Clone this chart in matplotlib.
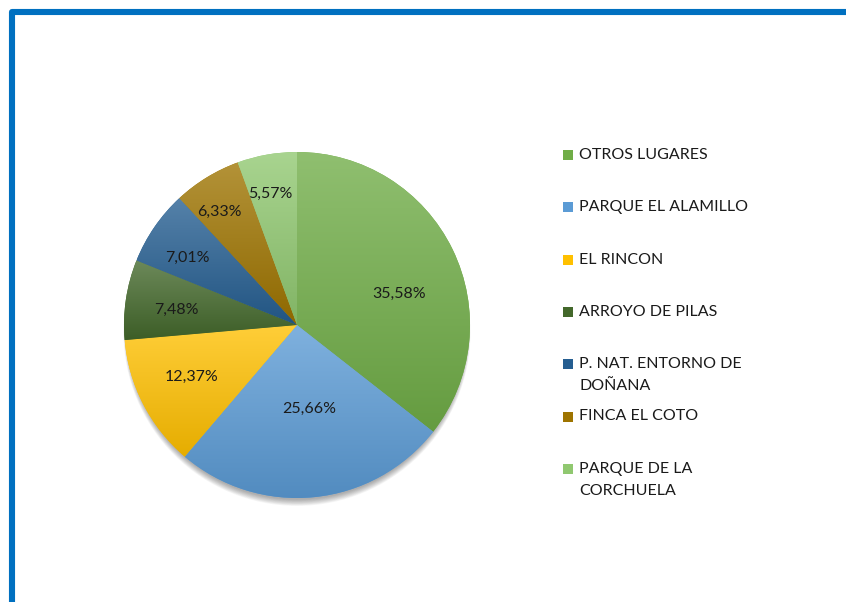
import matplotlib
matplotlib.use('Agg')
import matplotlib.pyplot as plt
import numpy as np
from matplotlib.patches import Rectangle, Circle
from matplotlib.lines import Line2D
from matplotlib.colors import to_rgb

categories = ["OTROS LUGARES", "PARQUE EL ALAMILLO", "EL RINCON", "ARROYO DE PILAS",
              "P. NAT. ENTORNO DE\nDOÑANA", "FINCA EL COTO", "PARQUE DE LA\nCORCHUELA"]
values = [35.58, 25.66, 12.37, 7.48, 7.01, 6.33, 5.57]
colors = ["#70AD47", "#5B9BD5", "#FFC000", "#43682B", "#255E91", "#9E7400", "#90C870"]
# label placement (fraction of radius, angle in degrees)
label_pos = [(0.615, 16.9), (0.49, -82), (0.68, -153.6), (0.70, 172.9),
             (0.745, 148.6), (0.79, 124.5), (0.775, 101.6)]

W, H = 846, 602
fig = plt.figure(figsize=(W / 100, H / 100), dpi=100)
fig.patch.set_facecolor('white')
FONT = 'Lato'

# border (top and left)
fig.add_artist(Line2D([11.5 / W, 11.5 / W, 1.0], [0.0, 1 - 11.5 / H, 1 - 11.5 / H],
                      transform=fig.transFigure, color='#0070C0', lw=4.4,
                      solid_joinstyle='round', solid_capstyle='butt'))

cx, cy, r = 297, 325, 173
ax = fig.add_axes([(cx - r) / W, (H - cy - r) / H, 2 * r / W, 2 * r / H])
ax.set_xlim(-1, 1)
ax.set_ylim(-1, 1)
ax.axis('off')

# soft shadow below the pie
for i in range(10):
    ax.add_patch(Circle((0, -0.025 - 0.002 * i), 0.985 + 0.002 * i, facecolor='black',
                        alpha=0.035, edgecolor='none', zorder=0, clip_on=False))

wedges, _ = ax.pie(values, colors=colors, startangle=90, counterclock=False,
                   radius=1, wedgeprops=dict(linewidth=0, zorder=1))
ax.set_xlim(-1, 1)
ax.set_ylim(-1, 1)

for w, c in zip(wedges, colors):
    base = np.array(to_rgb(c))
    top = base + (1 - base) * 0.22
    bot = base * 0.9
    t = np.linspace(0, 1, 256)[:, None]
    grad = top[None, :] * (1 - t) + bot[None, :] * t
    img = np.repeat(grad[:, None, :], 2, axis=1)
    th = np.radians(np.linspace(w.theta1, w.theta2, 100))
    ys = np.concatenate([[0], np.sin(th)])
    xs = np.concatenate([[0], np.cos(th)])
    im = ax.imshow(img, extent=[xs.min(), xs.max(), ys.min(), ys.max()],
                   origin='upper', aspect='auto', zorder=2, interpolation='bilinear')
    im.set_clip_path(w)
ax.set_xlim(-1, 1)
ax.set_ylim(-1, 1)

for v, (d, a) in zip(values, label_pos):
    ax.text(d * np.cos(np.radians(a)), d * np.sin(np.radians(a)),
            f"{v:.2f}%".replace('.', ','), ha='center', va='center',
            fontsize=11.5, family=FONT, color='#1a1a1a', zorder=5)

# legend
y0, step, lstep = 155, 52.3, 22
for i, (lab, c) in enumerate(zip(categories, colors)):
    y = y0 + i * step
    fig.add_artist(Rectangle((563 / W, 1 - (y + 5) / H), 10 / W, 10 / H,
                             transform=fig.transFigure, facecolor=c, edgecolor='none'))
    for j, line in enumerate(lab.split('\n')):
        fig.text(579 / W, 1 - (y + j * lstep) / H, line, ha='left', va='center',
                 fontsize=11.5, family=FONT, color='#1a1a1a')

fig.savefig('out.png', dpi=100)
